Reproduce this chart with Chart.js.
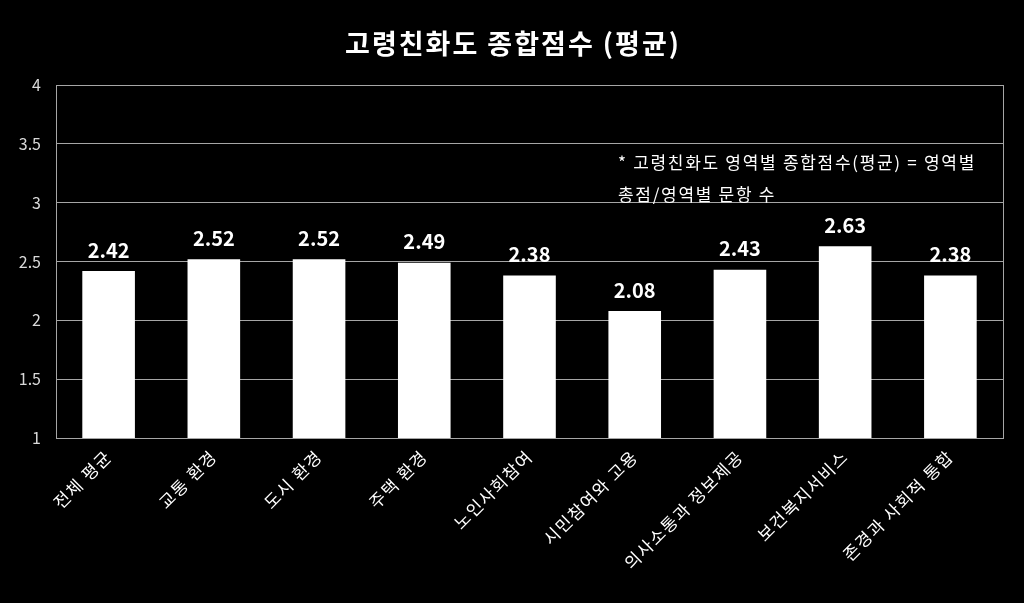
<!DOCTYPE html>
<html><head><meta charset="utf-8">
<script src="https://cdn.jsdelivr.net/npm/chart.js@4.4.0/dist/chart.umd.min.js"></script>
<style>html,body{margin:0;padding:0;background:#000;}#wrap{width:1024px;height:603px;}</style>
</head><body><div id="wrap"><canvas id="c" width="1024" height="603"></canvas></div>
<script>
const categories = ['전체 평균','교통 환경','도시 환경','주택 환경','노인사회참여','시민참여와 고용','의사소통과 정보제공','보건복지서비스','존경과 사회적 통합'];
const scores = [2.42, 2.52, 2.52, 2.49, 2.38, 2.08, 2.43, 2.63, 2.38];
const yTicks = [1, 1.5, 2, 2.5, 3, 3.5, 4];
const titleText = '고령친화도 종합점수 (평균)';
const noteLines = ['* 고령친화도 영역별 종합점수(평균) = 영역별', '총점/영역별 문항 수'];

const FONT = "'Noto Sans CJK KR', 'Noto Sans', sans-serif";

const extras = {
  id: 'extras',
  beforeDraw(chart) { chart.ctx.letterSpacing = '0px'; },
  afterDatasetsDraw(chart) {
    const ctx = chart.ctx, a = chart.chartArea;
    ctx.save();
    ctx.strokeStyle = '#a6a6a6'; ctx.lineWidth = 1;
    ctx.strokeRect(Math.round(a.left)+0.5, Math.round(a.top)+0.5, Math.round(a.right-a.left), Math.round(a.bottom-a.top));
    const meta = chart.getDatasetMeta(0);
    ctx.fillStyle = '#fff';
    ctx.font = 'bold 20px ' + FONT;
    ctx.textAlign = 'center'; ctx.textBaseline = 'bottom';
    meta.data.forEach((bar, i) => {
      ctx.fillText(scores[i].toFixed(2), bar.x, bar.y - 11);
    });
    ctx.font = '17px ' + FONT;
    ctx.letterSpacing = '1.7px';
    ctx.textAlign = 'left'; ctx.textBaseline = 'middle';
    ctx.fillText(noteLines[0], a.left + 562, a.top + 78);
    ctx.fillText(noteLines[1], a.left + 562, a.top + 110);
    ctx.font = 'bold 27px ' + FONT;
    ctx.letterSpacing = '2px';
    ctx.textAlign = 'center';
    ctx.fillText(titleText, 513, 44);
    ctx.restore();
    ctx.letterSpacing = '1.5px';
  },
  afterDraw(chart) { chart.ctx.letterSpacing = '0px'; }
};

new Chart(document.getElementById('c'), {
  type: 'bar',
  data: { labels: categories, datasets: [{ data: scores, backgroundColor: '#ffffff', borderWidth: 0, barPercentage: 0.5, categoryPercentage: 1.0 }] },
  options: {
    responsive: false, animation: false,
    layout: { padding: { left: 0, right: 21, bottom: 0, top: 85 } },
    plugins: {
      legend: { display: false }, tooltip: { enabled: false }, title: { display: false }
    },
    scales: {
      x: {
        grid: { display: false, drawTicks: false },
        border: { display: true, color: '#a6a6a6' },
        ticks: { z: 1, color: '#fff', font: { family: FONT, size: 17 }, maxRotation: 45, minRotation: 45, padding: 8, autoSkip: false },
        afterFit(s) { s.height = 165; }
      },
      y: {
        min: 1, max: 4,
        afterBuildTicks(s) { s.ticks = yTicks.map(v => ({ value: v })); },
        grid: { color: '#a6a6a6', drawTicks: false, lineWidth: 1 },
        border: { display: true, color: '#a6a6a6' },
        ticks: { color: '#d9d9d9', font: { family: FONT, size: 16 }, padding: 15, callback: v => String(v) },
        afterFit(s) { s.width = 56; }
      }
    }
  },
  plugins: [extras]
});
</script></body></html>
